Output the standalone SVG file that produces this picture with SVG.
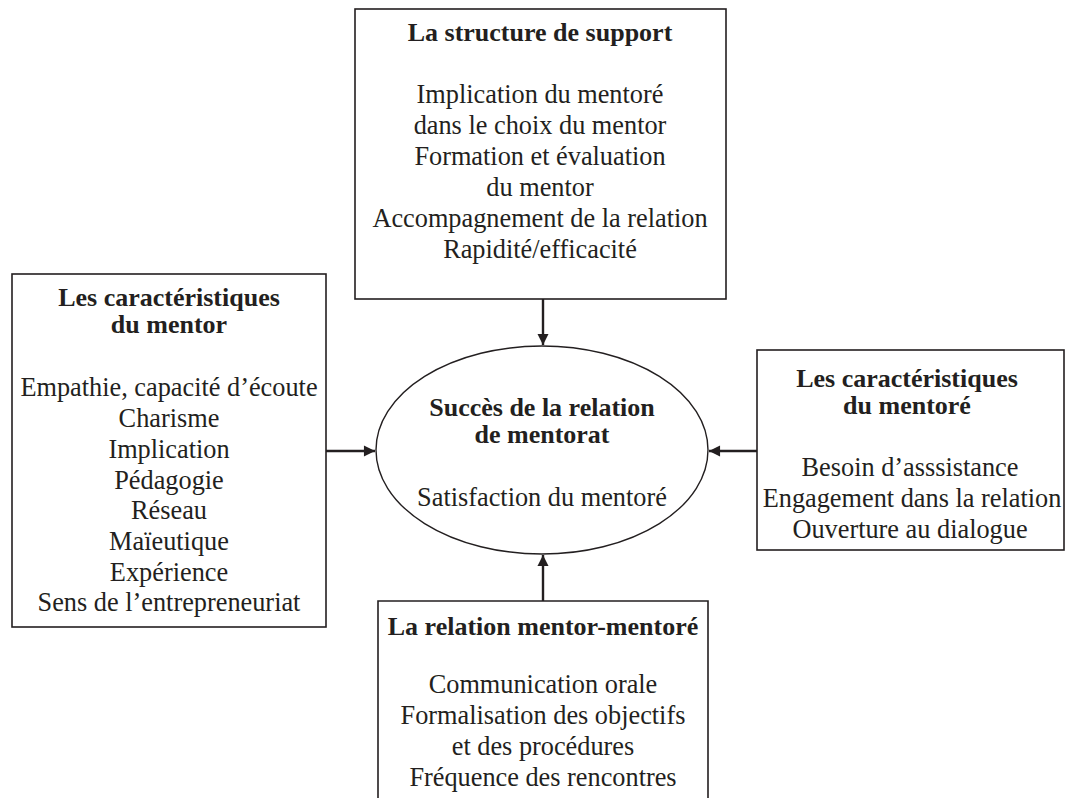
<svg xmlns="http://www.w3.org/2000/svg" width="1065" height="798" viewBox="0 0 1065 798">
<style>
.box{fill:#fff;stroke:#231f20;stroke-width:1.6}
.ell{fill:#fff;stroke:#231f20;stroke-width:1.4}
text{font-family:"Liberation Serif","Times New Roman",serif;font-size:26.3px;fill:#231f20;text-anchor:middle}
.t{font-weight:bold;font-size:26px}
.con{stroke:#231f20;stroke-width:2.4;fill:none;marker-end:url(#ah)}
</style>
<defs>
<marker id="ah" viewBox="0 0 10 10" refX="10" refY="5" markerWidth="5.2" markerHeight="4.6" markerUnits="strokeWidth" orient="auto">
<path d="M0,0 L10,5 L0,10 z" fill="#231f20"/>
</marker>
</defs>
<rect width="1065" height="798" fill="#fff"/>
<g id="connectors">
<line class="con" x1="543" y1="299" x2="543" y2="345"/>
<line class="con" x1="326" y1="451" x2="375" y2="451"/>
<line class="con" x1="757" y1="451" x2="709" y2="451"/>
<line class="con" x1="543" y1="601" x2="543" y2="555"/>
</g>
<g id="support">
<rect class="box" x="355" y="9" width="371" height="290"/>
<text class="t" x="540" y="41">La structure de support</text>
<text x="540" y="103">Implication du mentoré</text>
<text x="540" y="134">dans le choix du mentor</text>
<text x="540" y="165">Formation et évaluation</text>
<text x="540" y="196">du mentor</text>
<text x="540" y="227">Accompagnement de la relation</text>
<text x="540" y="258">Rapidité/efficacité</text>
</g>
<g id="mentor">
<rect class="box" x="12" y="274" width="314" height="353"/>
<text class="t" x="169" y="306">Les caractéristiques</text>
<text class="t" x="169" y="333">du mentor</text>
<text x="169" y="396">Empathie, capacité d’écoute</text>
<text x="169" y="427">Charisme</text>
<text x="169" y="458">Implication</text>
<text x="169" y="489">Pédagogie</text>
<text x="169" y="519">Réseau</text>
<text x="169" y="550">Maïeutique</text>
<text x="169" y="581">Expérience</text>
<text x="169" y="611">Sens de l’entrepreneuriat</text>
</g>
<g id="succes">
<ellipse class="ell" cx="542" cy="450" rx="166" ry="104"/>
<text class="t" x="542" y="416">Succès de la relation</text>
<text class="t" x="542" y="443">de mentorat</text>
<text x="542" y="506">Satisfaction du mentoré</text>
</g>
<g id="mentore">
<rect class="box" x="757" y="350" width="307" height="200"/>
<text class="t" x="907" y="387">Les caractéristiques</text>
<text class="t" x="907" y="414">du mentoré</text>
<text x="910" y="476">Besoin d’asssistance</text>
<text x="912" y="507">Engagement dans la relation</text>
<text x="910" y="538">Ouverture au dialogue</text>
</g>
<g id="relation">
<path class="box" d="M378,800 V601 H708 V800"/>
<text class="t" x="543" y="635">La relation mentor-mentoré</text>
<text x="543" y="693">Communication orale</text>
<text x="543" y="724">Formalisation des objectifs</text>
<text x="543" y="755">et des procédures</text>
<text x="543" y="786">Fréquence des rencontres</text>
</g>
</svg>
